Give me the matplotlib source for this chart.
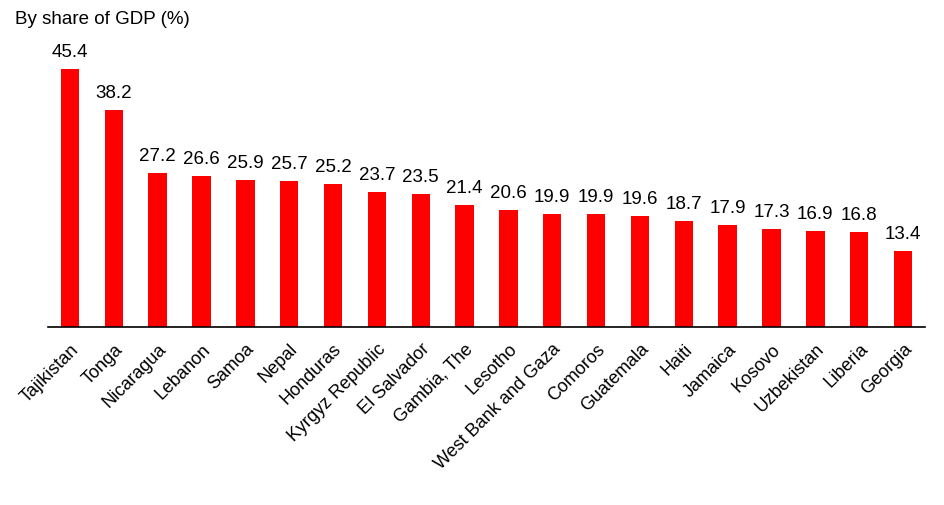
import matplotlib.pyplot as plt
import numpy as np

plt.rcParams['font.family'] = ['Liberation Sans', 'DejaVu Sans']

countries = ['Tajikistan', 'Tonga', 'Nicaragua', 'Lebanon', 'Samoa', 'Nepal',
             'Honduras', 'Kyrgyz Republic', 'El Salvador', 'Gambia, The',
             'Lesotho', 'West Bank and Gaza', 'Comoros', 'Guatemala', 'Haiti',
             'Jamaica', 'Kosovo', 'Uzbekistan', 'Liberia', 'Georgia']
share = [45.4, 38.2, 27.2, 26.6, 25.9, 25.7, 25.2, 23.7, 23.5, 21.4,
         20.6, 19.9, 19.9, 19.6, 18.7, 17.9, 17.3, 16.9, 16.8, 13.4]

fig = plt.figure(figsize=(9.44, 5.05), dpi=100)
ax = fig.add_axes([48/944, 178/505, 877/944, 284/505])

x = np.arange(len(countries))
ax.bar(x, share, width=0.42, color='#ff0000')

for xi, v in zip(x, share):
    ax.text(xi, v + 1.4, f'{v:.1f}', ha='center', va='bottom', fontsize=13.5)

ax.set_xlim(-0.5, len(countries) - 0.5)
ax.set_ylim(0, 50)
ax.set_xticks(x)
ax.set_xticklabels(countries, rotation=45, ha='right', rotation_mode='anchor', fontsize=13)
ax.tick_params(axis='x', length=0, pad=10)
ax.set_yticks([])
for s in ['top', 'right', 'left']:
    ax.spines[s].set_visible(False)
ax.spines['bottom'].set_color('black')
ax.spines['bottom'].set_linewidth(1.2)

fig.text(15/944, 1 - 20/505, 'By share of GDP (%)', ha='left', va='center', fontsize=13.5)

fig.savefig('out.png', dpi=100)
